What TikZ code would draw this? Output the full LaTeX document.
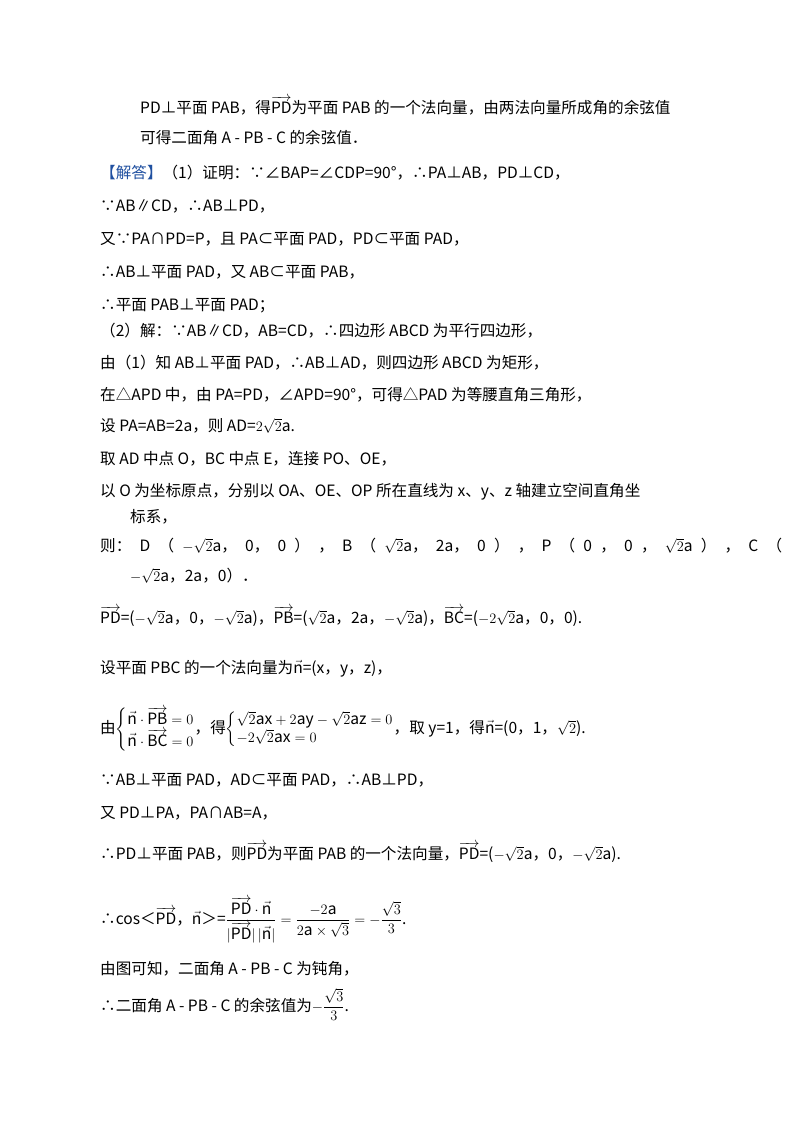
\documentclass[tikz,border=0pt]{standalone}
\usepackage{amsmath}
\usepackage{fontspec}
\setmainfont{Noto Sans CJK SC}
\definecolor{blu}{HTML}{2050A0}
\newcommand{\vv}[1]{\overrightarrow{\mathrm{#1}}}
\newcommand{\rt}{\sqrt{2}}
\begin{document}
\begin{tikzpicture}[x=1pt,y=-1pt,ln/.style={anchor=base west,inner sep=0pt,font=\fontsize{15.6}{17}\selectfont}]
\useasboundingbox (0,0) rectangle (800,1132);
\fill[white] (0,0) rectangle (800,1132);
\node[ln] (l1) at (140,113) {PD⊥平面 PAB，得$\vv{PD}$为平面 PAB 的一个法向量，由两法向量所成角的余弦值};
\node[ln] (l2) at (140,143) {可得二面角 A - PB - C 的余弦值．};
\node[ln] (l3) at (100,178) {\textcolor{blu}{【解答】}（1）证明：∵∠BAP=∠CDP=90°，∴PA⊥AB，PD⊥CD，};
\node[ln] (l4) at (100,211) {∵AB∥CD，∴AB⊥PD，};
\node[ln] (l5) at (100,244) {又∵PA∩PD=P，且 PA⊂平面 PAD，PD⊂平面 PAD，};
\node[ln] (l6) at (100,277) {∴AB⊥平面 PAD，又 AB⊂平面 PAB，};
\node[ln] (l7) at (100,310) {∴平面 PAB⊥平面 PAD；};
\node[ln] (l8) at (100,336) {（2）解：∵AB∥CD，AB=CD，∴四边形 ABCD 为平行四边形，};
\node[ln] (l9) at (100,368) {由（1）知 AB⊥平面 PAD，∴AB⊥AD，则四边形 ABCD 为矩形，};
\node[ln] (l10) at (100,400) {在△APD 中，由 PA=PD，∠APD=90°，可得△PAD 为等腰直角三角形，};
\node[ln] (l11) at (100,431) {设 PA=AB=2a，则 AD=$2\rt$a.};
\node[ln] (l12) at (100,464) {取 AD 中点 O，BC 中点 E，连接 PO、OE，};
\node[ln] (l13) at (100,496) {以 O 为坐标原点，分别以 OA、OE、OP 所在直线为 x、y、z 轴建立空间直角坐};
\node[ln] (l14) at (130,522) {标系，};
\node[ln] (l15) at (100,551) {\makebox[682pt][s]{则： D （ $-\rt$a， 0， 0 ） ， B （ $\rt$a， 2a， 0 ） ， P （ 0 ， 0 ， $\rt$a ） ， C （}};
\node[ln] (l16) at (130,581) {$-\rt$a，2a，0）．};
\node[ln] (l17) at (100,623) {$\vv{PD}$=($-\rt$a，0，$-\rt$a)，$\vv{PB}$=($\rt$a，2a，$-\rt$a)，$\vv{BC}$=($-2\rt$a，0，0).};
\node[ln] (l18) at (100,673) {设平面 PBC 的一个法向量为$\vec{\mathrm n}$=(x，y，z)，};
\node[ln] (l19) at (100,733) {由$\left\{\begin{array}{@{}l@{}}\vec{\mathrm n}\cdot\vv{PB}=0\\ \vec{\mathrm n}\cdot\vv{BC}=0\end{array}\right.$，得$\left\{\begin{array}{@{}l@{}}\rt\mathrm{ax}+2\mathrm{ay}-\rt\mathrm{az}=0\\ -2\rt\mathrm{ax}=0\end{array}\right.$，取 y=1，得$\vec{\mathrm n}$=(0，1，$\rt$).};
\node[ln] (l20) at (100,785) {∵AB⊥平面 PAD，AD⊂平面 PAD，∴AB⊥PD，};
\node[ln] (l21) at (100,818) {又 PD⊥PA，PA∩AB=A，};
\node[ln] (l22) at (100,859) {∴PD⊥平面 PAB，则$\vv{PD}$为平面 PAB 的一个法向量，$\vv{PD}$=($-\rt$a，0，$-\rt$a).};
\node[ln] (l23) at (100,924) {∴cos＜$\vv{PD}$，$\vec{\mathrm n}$＞=$\dfrac{\vv{PD}\cdot\vec{\mathrm n}}{|\vv{PD}|\,|\vec{\mathrm n}|}=\dfrac{-2\mathrm a}{2\mathrm a\times\sqrt3}=-\dfrac{\sqrt3}{3}$.};
\node[ln] (l24) at (100,974) {由图可知，二面角 A - PB - C 为钝角，};
\node[ln] (l25) at (100,1011) {∴二面角 A - PB - C 的余弦值为$-\dfrac{\sqrt3}{3}$.};
\end{tikzpicture}
\end{document}
